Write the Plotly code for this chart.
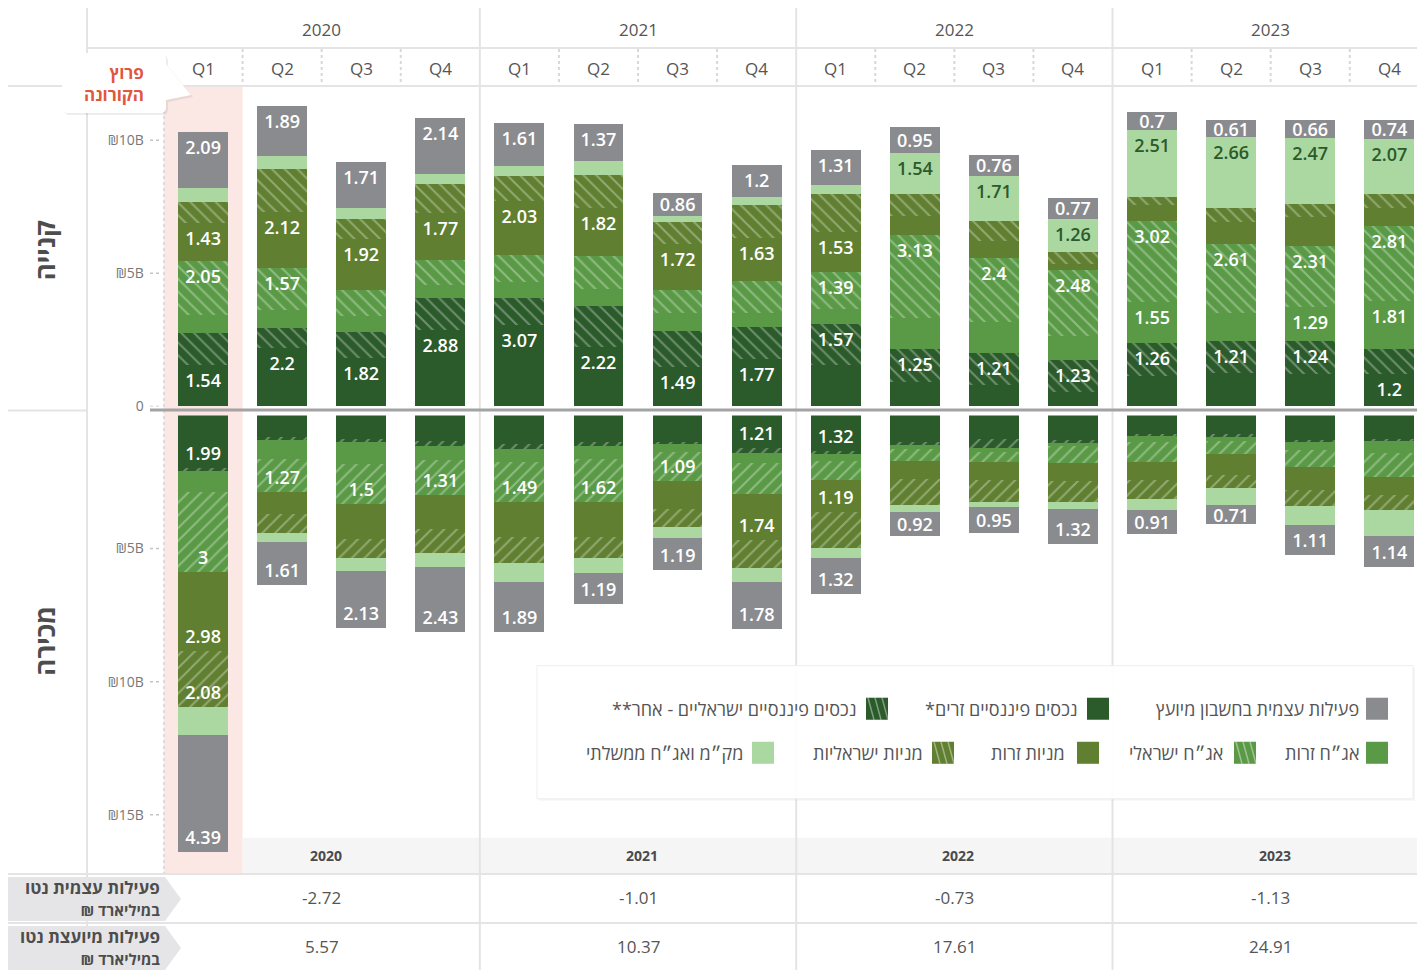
import plotly.graph_objects as go

# ---------------- DATA (₪ billions) ----------------
years = ["2020", "2021", "2022", "2023"]
quarters = ["Q1", "Q2", "Q3", "Q4"] * 4
xpos = list(range(16))

names = {
    "gray": "פעילות עצמית בחשבון מיועץ",
    "dark_s": "נכסים פיננסיים זרים*",
    "dark_h": "נכסים פיננסיים ישראליים - אחר**",
    "med_s": "אג״ח זרות",
    "med_h": "אג״ח ישראלי",
    "olive_s": "מניות זרות",
    "olive_h": "מניות ישראליות",
    "light": "מק״מ ואג״ח ממשלתי",
}

# Buy (קנייה)
buy_dark_s = [1.54, 2.2, 1.82, 2.88, 3.07, 2.22, 1.49, 1.77, 1.54, 0.90, 0.79, 0.53, 1.13, 1.24, 1.20, 1.2]
buy_dark_h = [1.20, 0.75, 0.98, 1.20, 1.02, 1.54, 1.35, 1.20, 1.57, 1.25, 1.21, 1.23, 1.26, 1.21, 1.24, 0.94]
buy_med_s = [0.68, 0.68, 0.60, 0.49, 0.60, 0.64, 0.68, 0.53, 0.53, 1.17, 1.17, 0.90, 1.55, 1.05, 1.29, 1.81]
buy_med_h = [2.05, 1.57, 0.98, 0.94, 0.98, 1.24, 0.86, 1.20, 1.39, 3.13, 2.4, 2.48, 3.02, 2.61, 2.31, 2.81]
buy_olive_s = [1.43, 2.12, 1.92, 1.77, 2.03, 1.82, 1.72, 1.63, 1.53, 0.71, 0.64, 0.20, 0.60, 0.83, 1.09, 0.71]
buy_olive_h = [0.79, 1.58, 0.75, 1.09, 0.94, 1.24, 0.83, 1.24, 1.43, 0.83, 0.75, 0.45, 0.30, 0.53, 0.49, 0.49]
buy_light = [0.53, 0.49, 0.41, 0.34, 0.38, 0.53, 0.23, 0.30, 0.34, 1.54, 1.71, 1.26, 2.51, 2.66, 2.47, 2.07]
buy_gray = [2.09, 1.89, 1.71, 2.14, 1.61, 1.37, 0.86, 1.2, 1.31, 0.95, 0.76, 0.77, 0.7, 0.61, 0.66, 0.74]

# Sell (מכירה)
sell_dark_s = [1.99, 0.81, 0.88, 0.96, 1.06, 1.00, 0.98, 1.21, 1.32, 1.00, 0.88, 0.94, 0.69, 0.71, 0.94, 0.88]
sell_dark_h = [0.10, 0.10, 0.12, 0.20, 0.19, 0.16, 0.10, 0.21, 0.13, 0.10, 0.35, 0.10, 0.10, 0.09, 0.06, 0.09]
sell_med_s = [0.79, 0.71, 0.84, 0.53, 0.50, 0.46, 0.30, 0.35, 0.25, 0.16, 0.15, 0.12, 0.21, 0.16, 0.31, 0.44]
sell_med_h = [3, 1.27, 1.5, 1.31, 1.49, 1.62, 1.09, 1.17, 0.73, 0.44, 0.38, 0.63, 0.75, 0.48, 0.63, 0.90]
sell_olive_s = [2.98, 0.81, 1.29, 1.28, 1.34, 1.34, 1.03, 1.74, 1.19, 0.69, 0.66, 0.69, 0.69, 0.81, 0.85, 0.66]
sell_olive_h = [2.08, 0.71, 0.73, 0.90, 0.98, 0.78, 0.69, 1.06, 1.35, 0.96, 0.84, 0.79, 0.71, 0.46, 0.63, 0.59]
sell_light = [1.08, 0.35, 0.50, 0.51, 0.69, 0.55, 0.41, 0.51, 0.40, 0.26, 0.19, 0.25, 0.41, 0.66, 0.71, 0.98]
sell_gray = [4.39, 1.61, 2.13, 2.43, 1.89, 1.19, 1.19, 1.78, 1.32, 0.92, 0.95, 1.32, 0.91, 0.71, 1.11, 1.14]

# which segments carry a value label
buy_lbl = {
    "dark_s": [1, 1, 1, 1, 1, 1, 1, 1, 0, 0, 0, 0, 0, 0, 0, 1],
    "dark_h": [0, 0, 0, 0, 0, 0, 0, 0, 1, 1, 1, 1, 1, 1, 1, 0],
    "med_s": [0, 0, 0, 0, 0, 0, 0, 0, 0, 0, 0, 0, 1, 0, 1, 1],
    "med_h": [1, 1, 0, 0, 0, 0, 0, 0, 1, 1, 1, 1, 1, 1, 1, 1],
    "olive_s": [1, 1, 1, 1, 1, 1, 1, 1, 1, 0, 0, 0, 0, 0, 0, 0],
    "olive_h": [0] * 16,
    "light": [0, 0, 0, 0, 0, 0, 0, 0, 0, 1, 1, 1, 1, 1, 1, 1],
    "gray": [1] * 16,
}
sell_lbl = {
    "dark_s": [1, 0, 0, 0, 0, 0, 0, 1, 1, 0, 0, 0, 0, 0, 0, 0],
    "dark_h": [0] * 16,
    "med_s": [0] * 16,
    "med_h": [1, 1, 1, 1, 1, 1, 1, 0, 0, 0, 0, 0, 0, 0, 0, 0],
    "olive_s": [1, 0, 0, 0, 0, 0, 0, 1, 1, 0, 0, 0, 0, 0, 0, 0],
    "olive_h": [1, 0, 0, 0, 0, 0, 0, 0, 0, 0, 0, 0, 0, 0, 0, 0],
    "light": [0] * 16,
    "gray": [1] * 16,
}

self_net = [-2.72, -1.01, -0.73, -1.13]
advised_net = [5.57, 10.37, 17.61, 24.91]

buy = {"dark_s": buy_dark_s, "dark_h": buy_dark_h, "med_s": buy_med_s, "med_h": buy_med_h,
       "olive_s": buy_olive_s, "olive_h": buy_olive_h, "light": buy_light, "gray": buy_gray}
sell = {"dark_s": sell_dark_s, "dark_h": sell_dark_h, "med_s": sell_med_s, "med_h": sell_med_h,
        "olive_s": sell_olive_s, "olive_h": sell_olive_h, "light": sell_light, "gray": sell_gray}

# ---------------- STYLE ----------------
W, H = 1417, 970          # design grid (reference pixels)
FIG_H = 980               # rendered height (viewer compresses vertically)
def px(x):
    return x / W
def py(y):
    return 1 - y / H

DARK = "#2b5a2b"
MED = "#5a9a46"
OLIVE = "#607f30"
LIGHT = "#aad8a0"
GRAY = "#8a8b8f"
TXT = "#555555"
GRID = "#e4e4e4"
FONT = "Open Sans, Liberation Sans, DejaVu Sans, sans-serif"
NUMFONT = "Open Sans, Lato, sans-serif"
SMALL = 1.0   # segments thinner than this get a centred label

order = [  # bottom (near zero) -> outer
    ("dark_s", DARK, False),
    ("dark_h", DARK, True),
    ("med_s", MED, False),
    ("med_h", MED, True),
    ("olive_s", OLIVE, False),
    ("olive_h", OLIVE, True),
    ("light", LIGHT, False),
    ("gray", GRAY, False),
]

fig = go.Figure()

def bar(vals, texts, color, key, hatched, hatch_shape, xa, ya, anchor):
    marker = dict(color=color, line=dict(width=0))
    if hatched:
        marker["pattern"] = dict(shape=hatch_shape, fgcolor="white", fgopacity=0.32,
                                 size=9, solidity=0.22, fillmode="overlay")
    fig.add_trace(go.Bar(
        x=xpos, y=vals, width=0.63, name=names[key], marker=marker,
        text=texts, textposition="inside", insidetextanchor=anchor, textangle=0,
        textfont=dict(family=NUMFONT, size=18, color=(DARK if key == "light" else "white"), weight=600),
        xaxis=xa, yaxis=ya, showlegend=False, cliponaxis=False, hoverinfo="skip",
    ))

def add_side(data, lbl, xa, ya, hatch_shape):
    for key, color, hatched in order:
        vals = data[key]
        texts = [f"{v:g}" if f else "" for v, f in zip(vals, lbl[key])]
        if key == "gray":
            big = [v if v >= SMALL else 0 for v in vals]
            small = [v if v < SMALL else 0 for v in vals]
            bar(big, [t if v >= SMALL else "" for v, t in zip(vals, texts)], color, key, hatched,
                hatch_shape, xa, ya, "end")
            bar(small, [t if v < SMALL else "" for v, t in zip(vals, texts)], color, key, hatched,
                hatch_shape, xa, ya, "middle")
        else:
            bar(vals, texts, color, key, hatched, hatch_shape, xa, ya, "end")

add_side(buy, buy_lbl, "x", "y", "\\")
add_side(sell, sell_lbl, "x2", "y2", "/")

# ---------------- SHAPES ----------------
shapes = []
def line(x0, y0, x1, y1, color=GRID, width=2, dash="solid", xref="paper", yref="paper", layer="below"):
    shapes.append(dict(type="line", x0=x0, y0=y0, x1=x1, y1=y1, xref=xref, yref=yref,
                       line=dict(color=color, width=width, dash=dash), layer=layer))

# Covid highlight column (Q1 2020)
shapes.append(dict(type="rect", xref="x", yref="paper", x0=-0.5, x1=0.5, y0=py(872), y1=py(86),
                   fillcolor="#fbe8e5", line=dict(width=0), layer="below"))
# bottom year band
shapes.append(dict(type="rect", xref="x", yref="paper", x0=0.5, x1=15.5, y0=py(872), y1=py(837),
                   fillcolor="#f5f5f5", line=dict(width=0), layer="below"))

# frame lines
line(px(87), py(8), px(87), py(970))
line(px(8), py(86), 1, py(86))
line(px(87), py(48), 1, py(48))
line(px(8), py(410), px(87), py(410))
line(px(8), py(873), 1, py(873))
line(px(8), py(922), 1, py(922))
for b in [3.5, 7.5, 11.5]:
    line(b, py(8), b, py(970), xref="x")
for i in range(16):
    if i % 4 != 3:
        line(i + 0.5, py(49), i + 0.5, py(85), color="#d8d8d8", width=2, dash="dot", xref="x")
# dotted axis line
line(px(164), py(86), px(164), py(872), color="#dcdcdc", width=2, dash="dot")
# dotted tick marks
for v in [0, 5, 10]:
    line(px(150), v, px(162), v, color="#c4c4c4", width=1.5, dash="dot", yref="y")
for v in [5, 10, 15]:
    line(px(150), v, px(162), v, color="#c4c4c4", width=1.5, dash="dot", yref="y2")
# zero line
line(px(150), py(409.5), 1, py(409.5), color="#a3a3a3", width=3, layer="above")

# table row chevrons
def chevron(top, bot):
    mid = (top + bot) / 2
    path = (f"M {px(8)},{py(top)} L {px(165)},{py(top)} L {px(181)},{py(mid)} "
            f"L {px(165)},{py(bot)} L {px(8)},{py(bot)} Z")
    shapes.append(dict(type="path", path=path, xref="paper", yref="paper",
                       fillcolor="#e5e5e7", line=dict(width=0), layer="below"))
chevron(876, 920)
chevron(925, 969)

# callout box (shadow + body with pointer)
def callout(x0, y0, x1, y1, r, color, off):
    p = (f"M {px(x0 + r + off)},{py(y0 + off)} L {px(x1 - r + off)},{py(y0 + off)} "
         f"Q {px(x1 + off)},{py(y0 + off)} {px(x1 + off)},{py(y0 + r + off)} "
         f"L {px(x1 + off)},{py(64 + off)} L {px(191 + off)},{py(95 + off)} L {px(x1 + off)},{py(100 + off)} "
         f"L {px(x1 + off)},{py(y1 - r + off)} Q {px(x1 + off)},{py(y1 + off)} {px(x1 - r + off)},{py(y1 + off)} "
         f"L {px(x0 + r + off)},{py(y1 + off)} Q {px(x0 + off)},{py(y1 + off)} {px(x0 + off)},{py(y1 - r + off)} "
         f"L {px(x0 + off)},{py(y0 + r + off)} Q {px(x0 + off)},{py(y0 + off)} {px(x0 + r + off)},{py(y0 + off)} Z")
    shapes.append(dict(type="path", path=p, xref="paper", yref="paper", fillcolor=color,
                       line=dict(width=0), layer="above"))
callout(62, 53, 166, 113, 6, "rgba(0,0,0,0.07)", 2)
callout(62, 53, 166, 113, 6, "white", 0)

# legend box
shapes.append(dict(type="rect", xref="paper", yref="paper", x0=px(539), x1=px(1415), y0=py(800), y1=py(667),
                   fillcolor="rgba(0,0,0,0.04)", line=dict(width=0), layer="above"))
shapes.append(dict(type="rect", xref="paper", yref="paper", x0=px(537), x1=px(1413), y0=py(798), y1=py(665),
                   fillcolor="rgba(255,255,255,0.93)", line=dict(color="#eeeeee", width=1), layer="above"))

legend_items = [  # (key, color, hatched, swatch_left_px, text_right_px, center_y)
    ("gray", GRAY, False, 1366, 1361, 708),
    ("dark_s", DARK, False, 1087, 1080, 708),
    ("dark_h", DARK, True, 866, 858, 708),
    ("med_s", MED, False, 1366, 1361, 752),
    ("med_h", MED, True, 1234, 1225, 752),
    ("olive_s", OLIVE, False, 1077, 1067, 752),
    ("olive_h", OLIVE, True, 932, 925, 752),
    ("light", LIGHT, False, 752, 745, 752),
]
annotations = []
for key, color, hatched, sx, tx, cy in legend_items:
    shapes.append(dict(type="rect", xref="paper", yref="paper", x0=px(sx), x1=px(sx + 22),
                       y0=py(cy + 11), y1=py(cy - 11), fillcolor=color, line=dict(width=0), layer="above"))
    if hatched:
        for k in range(3):
            x0 = sx + 2 + 7 * k
            shapes.append(dict(type="line", xref="paper", yref="paper", x0=px(x0), y0=py(cy - 11),
                               x1=px(x0 + 6), y1=py(cy + 11),
                               line=dict(color="rgba(255,255,255,0.4)", width=1.5), layer="above"))
    annotations.append(dict(text=names[key] + "\u200f", x=px(tx), y=py(cy), xref="paper", yref="paper",
                            xanchor="right", yanchor="middle", showarrow=False,
                            font=dict(family=FONT, size=18, color=TXT)))

# ---------------- TEXT ----------------
def ann(text, x, y, size, color=TXT, xref="paper", xanchor="center", bold=False, angle=0, align="center",
        family=FONT):
    annotations.append(dict(text=text, x=x, y=y, xref=xref, yref="paper", xanchor=xanchor, yanchor="middle",
                            showarrow=False, textangle=angle, align=align,
                            font=dict(family=family, size=size, color=color, weight=(700 if bold else 400))))

for i, yr in enumerate(years):
    c = 4 * i + 1.5
    ann(yr, c, py(29), 17, xref="x")
    ann(yr, c + 0.05, py(855), 14, color="#4a4a4a", xref="x", bold=True)
    ann(f"{self_net[i]:.2f}", c, py(897), 17, xref="x")
    ann(f"{advised_net[i]:.2f}", c, py(946), 17, xref="x")
for i, q in enumerate(quarters):
    ann(q, i, py(68), 17, xref="x")

ann("קנייה", px(45), py(250), 26, color="#4d4d4d", bold=True, angle=-90)
ann("מכירה", px(45), py(640), 26, color="#4d4d4d", bold=True, angle=-90)
ann("פעילות עצמית נטו<br><span style='font-size:15px'>במיליארד ₪\u200f</span>", px(162), py(897), 17,
    color="#4d4d4d", xanchor="right", bold=True, align="right")
ann("פעילות מיועצת נטו<br><span style='font-size:15px'>במיליארד ₪\u200f</span>", px(162), py(946), 17,
    color="#4d4d4d", xanchor="right", bold=True, align="right")
ann("פרוץ<br>הקורונה", px(146), py(83), 17, color="#e0573d", xanchor="right", bold=True, align="right")

# ---------------- LAYOUT ----------------
axis_common = dict(showgrid=False, zeroline=False, showline=False, fixedrange=True)
tickfont = dict(size=14, color="#777777", family=FONT)
fig.update_layout(
    width=W, height=FIG_H, margin=dict(l=0, r=0, t=0, b=0),
    paper_bgcolor="white", plot_bgcolor="rgba(0,0,0,0)",
    barmode="stack", showlegend=False,
    uniformtext=dict(minsize=18, mode="show"),
    font=dict(family=FONT, color=TXT),
    xaxis=dict(domain=[px(163.5), 1], range=[-0.5, 15.35], showticklabels=False, anchor="y", **axis_common),
    xaxis2=dict(domain=[px(163.5), 1], range=[-0.5, 15.35], showticklabels=False, anchor="y2",
                matches="x", **axis_common),
    yaxis=dict(domain=[py(406), py(86)], range=[0, (406 - 86) / 26.6], anchor="x",
               tickvals=[0, 5, 10], ticktext=["0", "₪5B", "₪10B"], ticks="outside", ticklen=16,
               tickcolor="rgba(0,0,0,0)", tickfont=tickfont, **axis_common),
    yaxis2=dict(domain=[py(872), py(415)], range=[(872 - 415) / 26.6, 0], anchor="x2",
                tickvals=[5, 10, 15], ticktext=["₪5B", "₪10B", "₪15B"], ticks="outside", ticklen=16,
                tickcolor="rgba(0,0,0,0)", tickfont=tickfont, **axis_common),
    shapes=shapes,
    annotations=annotations,
)

fig.write_html("out.html", config={"displayModeBar": False},
               post_script="document.body.style.margin='0px';")
